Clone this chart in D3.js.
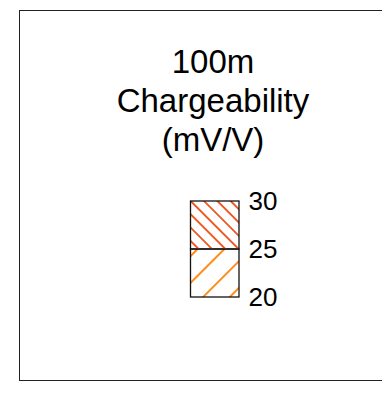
<!DOCTYPE html>
<html>
<head>
<meta charset="utf-8">
<script src="https://cdn.jsdelivr.net/npm/d3@7"></script>
<style>
  html, body { margin: 0; padding: 0; background: #fff; }
  svg { display: block; font-family: "Liberation Sans", Arial, sans-serif; }
</style>
</head>
<body>
<svg id="chart" width="382" height="393"></svg>
<script>
const titleLines = ["100m", "Chargeability", "(mV/V)"];
const segStart = [20, 25];
const segEnd = [25, 30];
const segPattern = ["hatchA", "hatchB"];
const segColor = ["#ff8c1a", "#ee5a24"];
const tickValues = [20, 25, 30];

const svg = d3.select("#chart");

// frame
svg.append("rect")
  .attr("x", 19.5).attr("y", 10.5)
  .attr("width", 420).attr("height", 370)
  .attr("fill", "none").attr("stroke", "#222").attr("stroke-width", 1);

// patterns
const defs = svg.append("defs");
const pA = defs.append("pattern")
  .attr("id", "hatchA").attr("patternUnits", "userSpaceOnUse")
  .attr("width", 18.88).attr("height", 18.88)
  .attr("patternTransform", "translate(19.5,0) rotate(45)");
[0, 18.88].forEach(px => pA.append("line")
  .attr("x1", px).attr("y1", -5).attr("x2", px).attr("y2", 25)
  .attr("stroke", segColor[0]).attr("stroke-width", 1.6)
  .attr("shape-rendering", "crispEdges"));

const pB = defs.append("pattern")
  .attr("id", "hatchB").attr("patternUnits", "userSpaceOnUse")
  .attr("width", 9.43).attr("height", 9.43)
  .attr("patternTransform", "translate(3,0) rotate(-45)");
[0, 9.43].forEach(px => pB.append("line")
  .attr("x1", px).attr("y1", -5).attr("x2", px).attr("y2", 15)
  .attr("stroke", segColor[1]).attr("stroke-width", 1.6)
  .attr("shape-rendering", "crispEdges"));

// title
const title = svg.append("text")
  .attr("text-anchor", "middle")
  .attr("font-size", 33)
  .attr("fill", "#000");
titleLines.forEach((t, i) => {
  title.append("tspan").attr("x", 213).attr("y", 73 + i * 39).text(t);
});

// scale
const y = d3.scaleLinear().domain([20, 30]).range([297, 201]);
const x0 = 190, x1 = 238.5;

const segs = segStart.map((s, i) => ({ s, e: segEnd[i], p: segPattern[i] }));
svg.selectAll("rect.seg").data(segs).enter().append("rect")
  .attr("class", "seg")
  .attr("x", x0 + 0.5)
  .attr("y", d => y(d.e))
  .attr("width", x1 - x0)
  .attr("height", d => y(d.s) - y(d.e))
  .attr("fill", d => `url(#${d.p})`)
  .attr("stroke", "#111").attr("stroke-width", 1.3);

// axis labels
const axis = d3.axisRight(y).tickValues(tickValues).tickSize(0).tickPadding(10)
  .tickFormat(d3.format("d"));
const g = svg.append("g").attr("transform", `translate(${x1},0)`).call(axis);
g.select(".domain").remove();
g.selectAll("text").attr("font-size", 26).attr("fill", "#000")
  .attr("font-family", "Liberation Sans, Arial, sans-serif");
</script>
</body>
</html>
